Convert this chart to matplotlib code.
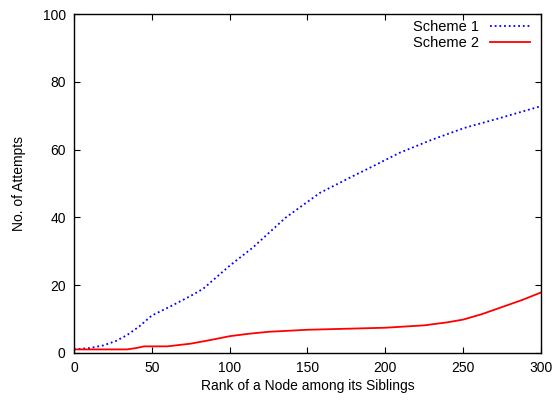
import matplotlib
matplotlib.use("Agg")
import matplotlib.pyplot as plt

plt.rcParams['font.family'] = ['Liberation Sans', 'DejaVu Sans']

# rank of node (x) and number of attempts
rank1 = [0, 10, 19, 27, 34, 42, 50, 62, 75, 83, 94, 100, 115, 136, 158, 179, 194, 209, 230, 251, 273, 300]
scheme1 = [1, 1.4, 2.2, 3.5, 5.2, 7.8, 11, 13.7, 16.8, 18.9, 23.3, 25.7, 31.1, 39.9, 47.2, 52.1, 55.5, 59, 62.9, 66.4, 69.2, 72.8]

rank2 = [0, 10, 20, 34, 40, 45, 52, 60, 75, 88, 100, 112, 125, 150, 175, 200, 225, 240, 250, 262, 275, 288, 300]
scheme2 = [1, 1, 1, 1, 1.4, 1.9, 1.9, 1.9, 2.7, 3.8, 4.9, 5.6, 6.2, 6.8, 7.1, 7.4, 8.1, 9, 9.8, 11.4, 13.5, 15.6, 17.8]

fig = plt.figure(figsize=(5.58, 4.0), dpi=100)
ax = fig.add_axes([0.1326, 0.118, 0.8368, 0.847])

ax.plot(rank1, scheme1, color="blue", linewidth=1.3, linestyle=(0, (1, 1.6)), label="Scheme 1")
ax.plot(rank2, scheme2, color="red", linewidth=1.3, linestyle="-", label="Scheme 2")

ax.set_xlim(0, 300)
ax.set_ylim(0, 100)
ax.set_xticks([0, 50, 100, 150, 200, 250, 300])
ax.set_yticks([0, 20, 40, 60, 80, 100])
ax.tick_params(direction="in", top=True, right=True, length=4, labelsize=10, pad=6)
for s in ax.spines.values():
    s.set_linewidth(1.0)

ax.set_xlabel("Rank of a Node among its Siblings", fontsize=10, labelpad=3)
ax.set_ylabel("No. of Attempts", fontsize=10, labelpad=12)

ax.legend(loc="upper right", bbox_to_anchor=(0.987, 0.994), frameon=False, markerfirst=False,
          fontsize=10.5, handlelength=2.8, borderaxespad=0.1, borderpad=0.2,
          labelspacing=0.1, handletextpad=0.7)

fig.savefig("out.png", dpi=100)
